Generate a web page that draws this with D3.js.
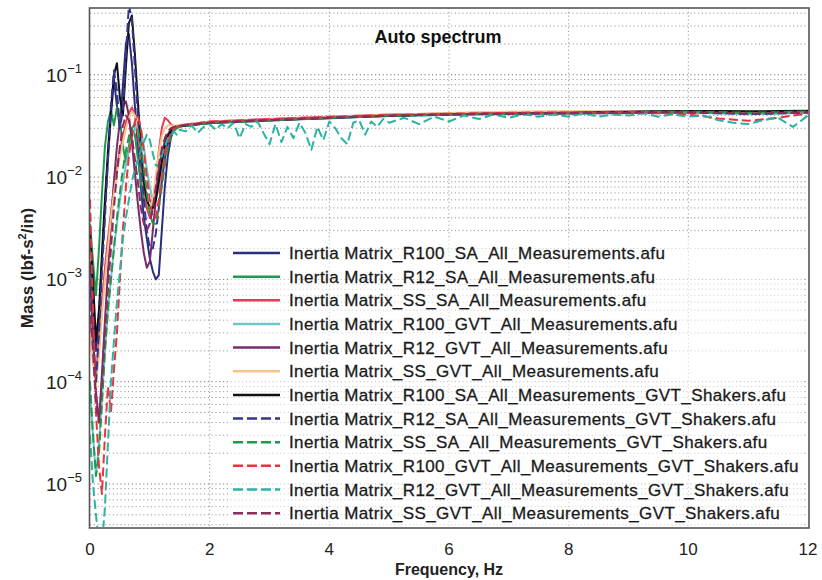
<!DOCTYPE html>
<html><head><meta charset="utf-8">
<script src="https://cdn.jsdelivr.net/npm/d3@7/dist/d3.min.js"></script>
<style>
html,body{margin:0;padding:0;background:#fff;}
svg{display:block;font-family:"Liberation Sans",Arial,Helvetica,sans-serif;}
</style></head>
<body><svg id="chart" width="822" height="580"></svg>
<script>
// ---------------- DATA ----------------
const seriesNames = [
  "Inertia Matrix_R100_SA_All_Measurements.afu",
  "Inertia Matrix_R12_SA_All_Measurements.afu",
  "Inertia Matrix_SS_SA_All_Measurements.afu",
  "Inertia Matrix_R100_GVT_All_Measurements.afu",
  "Inertia Matrix_R12_GVT_All_Measurements.afu",
  "Inertia Matrix_SS_GVT_All_Measurements.afu",
  "Inertia Matrix_R100_SA_All_Measurements_GVT_Shakers.afu",
  "Inertia Matrix_R12_SA_All_Measurements_GVT_Shakers.afu",
  "Inertia Matrix_SS_SA_All_Measurements_GVT_Shakers.afu",
  "Inertia Matrix_R100_GVT_All_Measurements_GVT_Shakers.afu",
  "Inertia Matrix_R12_GVT_All_Measurements_GVT_Shakers.afu",
  "Inertia Matrix_SS_GVT_All_Measurements_GVT_Shakers.afu"
];
const seriesColors = ["#2b2e7c","#1f9950","#e23c58","#6ec5ca","#7a2c68","#f4c48a",
                      "#111111","#35358e","#1f9a4a","#e8343e","#2db3a2","#8a2c5c"];
const seriesDashed = [false,false,false,false,false,false,false,true,true,true,true,true];

const xTicks = [0,2,4,6,8,10,12];
const yTickExps = [-1,-2,-3,-4,-5];

// frequency grids (Hz)
const freqLow = [0,0.05,0.1,0.15,0.2,0.25,0.3,0.35,0.4,0.45,0.5,0.55,0.6,0.65,0.7,0.75,0.8,0.85,0.9,0.95,1.0,1.05,1.1,1.15,1.2,1.25,1.3,1.35,1.4,1.45,1.5];
const freqHigh = [2,2.5,3,3.5,4,4.5,5,5.5,6,6.5,7,7.5,8,8.5,9,9.5,10,10.5,11,11.5,12];
const freqNoisy = [1.6,1.7,1.8,1.9,2.0,2.1,2.2,2.3,2.4,2.5,2.6,2.7,2.8,2.9,3.0,3.1,3.2,3.3,3.4,3.5,3.6,3.7,3.8,3.9,4.0,4.1,4.2,4.3,4.4,4.5,4.6,4.7,4.8,4.9,5.0,5.25,5.5,5.75,6.0,6.25,6.5,6.75,7.0,7.25,7.5,7.75,8.0,8.25,8.5,8.75,9.0,9.25,9.5,9.75,10.0,10.25,10.5,10.75,11.0,11.25,11.5,11.75,12.0];

// mass values (lbf-s^2/in), low-frequency part on freqLow
const r100SaLow   = [1.5e-3,6e-4,2e-4,4e-4,1.5e-3,5e-3,1.5e-2,4e-2,9e-2,5e-2,3e-2,8e-2,2e-1,2.5e-1,1.3e-1,5e-2,2e-2,8e-3,4e-3,2.5e-3,1.6e-3,1.2e-3,1e-3,1.1e-3,3e-3,8e-3,1.6e-2,2.4e-2,2.9e-2,3.1e-2,3.15e-2];
const r12SaLow    = [3.5e-3,1.5e-3,7e-4,2e-3,7e-3,2e-2,3.5e-2,4.5e-2,3.2e-2,4.8e-2,3.6e-2,2e-2,1.4e-2,2e-2,3e-2,2.6e-2,1.5e-2,9e-3,6e-3,5e-3,5e-3,6e-3,8e-3,1.2e-2,1.7e-2,2.2e-2,2.6e-2,2.9e-2,3.05e-2,3.1e-2,3.15e-2];
const ssSaLow     = [4e-4,2e-4,1.2e-4,2.5e-4,6e-4,1.3e-3,2.5e-3,4.5e-3,8e-3,1.2e-2,1.8e-2,2.5e-2,3.4e-2,4.2e-2,4.8e-2,4e-2,2.6e-2,1.5e-2,8e-3,5e-3,4e-3,5e-3,9e-3,1.8e-2,3e-2,3.8e-2,3.6e-2,3.3e-2,3.15e-2,3.15e-2,3.2e-2];
const r100GvtLow  = [8e-5,3e-5,1.2e-5,2.5e-5,7e-5,2e-4,5e-4,1e-3,2e-3,3.5e-3,6e-3,9e-3,1.3e-2,1.8e-2,2.4e-2,3e-2,3.4e-2,3e-2,2e-2,1.2e-2,8e-3,6e-3,6e-3,8e-3,1.2e-2,1.8e-2,2.4e-2,2.8e-2,3e-2,3.1e-2,3.15e-2];
const r12GvtLow   = [1e-3,3e-4,8e-5,4e-5,1.2e-4,4e-4,1.2e-3,3.5e-3,9e-3,2e-2,3.5e-2,5e-2,5.5e-2,4e-2,2.2e-2,1.1e-2,5.5e-3,3e-3,1.8e-3,1.3e-3,1.5e-3,3e-3,6e-3,1.1e-2,1.7e-2,2.2e-2,2.6e-2,2.9e-2,3.05e-2,3.1e-2,3.15e-2];
const ssGvtLow    = [3e-4,1.5e-4,9e-5,1.8e-4,4.5e-4,1e-3,2e-3,4e-3,7e-3,1.1e-2,1.6e-2,2.2e-2,3e-2,3.8e-2,4.4e-2,4e-2,3e-2,1.8e-2,1e-2,6e-3,5e-3,6e-3,1e-2,1.7e-2,2.5e-2,3e-2,3.2e-2,3.2e-2,3.2e-2,3.2e-2,3.25e-2];
const r100SaShLow = [3e-3,1e-3,2.5e-4,5e-4,1.8e-3,6e-3,1.8e-2,4.5e-2,1e-1,1.3e-1,6e-2,4e-2,1.2e-1,3.2e-1,3.8e-1,1.6e-1,5.5e-2,2e-2,9e-3,6e-3,5e-3,5e-3,6e-3,9e-3,1.4e-2,2e-2,2.5e-2,2.8e-2,3e-2,3.1e-2,3.15e-2];
const r12SaShLow  = [8e-4,3e-4,1e-4,3e-4,1.2e-3,4e-3,1.5e-2,5e-2,1.1e-1,7e-2,3e-2,4.5e-2,1.6e-1,4.8e-1,3.5e-1,1.2e-1,4e-2,1.5e-2,6e-3,3e-3,2e-3,2e-3,2.8e-3,5e-3,9e-3,1.5e-2,2.1e-2,2.6e-2,2.9e-2,3.05e-2,3.15e-2];
const ssSaShLow   = [1e-4,3e-5,1.2e-5,2e-5,6e-5,2e-4,5e-4,1e-3,2e-3,4e-3,7e-3,1.2e-2,1.8e-2,2.5e-2,3e-2,3.3e-2,3e-2,2e-2,1.2e-2,7e-3,4.5e-3,3.5e-3,3.5e-3,5e-3,8e-3,1.3e-2,1.9e-2,2.5e-2,2.8e-2,3e-2,3.1e-2];
const r100GvtShLow= [6e-3,5e-4,5e-5,1.5e-5,8e-6,3e-5,9e-5,5e-5,1.3e-4,3e-4,1e-3,3e-3,8e-3,1.6e-2,2.5e-2,3.5e-2,4e-2,3e-2,1.8e-2,1e-2,6e-3,4e-3,4e-3,6e-3,1e-2,1.6e-2,2.2e-2,2.7e-2,3e-2,3.1e-2,3.2e-2];
const r12GvtShLow = [3e-5,1e-5,5e-6,2.5e-6,2.5e-6,6e-6,2.5e-5,1e-4,2.5e-4,6e-4,1.2e-3,2.5e-3,4e-3,6e-3,9e-3,1.2e-2,1.5e-2,1.8e-2,2.2e-2,2.6e-2,2.3e-2,1.7e-2,1.3e-2,1.3e-2,1.6e-2,2e-2,2.4e-2,2.5e-2,2.8e-2,2.6e-2,2.9e-2];
const ssGvtShLow  = [6e-4,2e-4,6e-5,4e-5,1e-4,3e-4,8e-4,2e-3,5e-3,1.1e-2,2e-2,3.2e-2,4e-2,3.6e-2,2.5e-2,1.5e-2,9e-3,5e-3,3.5e-3,3e-3,3.5e-3,5e-3,8e-3,1.3e-2,1.9e-2,2.4e-2,2.8e-2,3e-2,3.1e-2,3.15e-2,3.2e-2];

// high-frequency part on freqHigh
const r100SaHigh   = [.0338,.0348,.0358,.0368,.0377,.0387,.0396,.0402,.0407,.0412,.0413,.0417,.0418,.0422,.0423,.0427,.0428,.0424,.0418,.0422,.0428];
const r12SaHigh    = [.0340,.0350,.0360,.0370,.0380,.0388,.0398,.0404,.0410,.0415,.0416,.0421,.0424,.0430,.0434,.0438,.0440,.0436,.0430,.0434,.0440];
const ssSaHigh     = [.0350,.0360,.0370,.0380,.0390,.0400,.0410,.0415,.0420,.0425,.0428,.0432,.0433,.0436,.0437,.0440,.0441,.0437,.0433,.0436,.0441];
const r100GvtHigh  = [.0337,.0347,.0357,.0367,.0376,.0386,.0395,.0400,.0405,.0410,.0411,.0415,.0416,.0420,.0421,.0425,.0425,.0418,.0412,.0418,.0425];
const r12GvtHigh   = [.0342,.0352,.0362,.0372,.0382,.0391,.0400,.0406,.0411,.0416,.0417,.0421,.0422,.0426,.0427,.0431,.0432,.0428,.0423,.0427,.0433];
const ssGvtHigh    = [.0346,.0356,.0366,.0377,.0388,.0398,.0408,.0415,.0423,.0430,.0436,.0440,.0442,.0440,.0438,.0437,.0436,.0432,.0427,.0431,.0436];
const r100SaShHigh = [.0339,.0349,.0359,.0369,.0379,.0389,.0399,.0405,.0411,.0416,.0419,.0424,.0427,.0432,.0436,.0441,.0444,.0443,.0440,.0442,.0445];
const r12SaShHigh  = [.0341,.0351,.0361,.0371,.0380,.0390,.0399,.0404,.0409,.0414,.0415,.0419,.0420,.0424,.0424,.0428,.0428,.0422,.0414,.0420,.0428];
const ssSaShHigh   = [.0338,.0348,.0358,.0368,.0378,.0388,.0398,.0403,.0409,.0414,.0415,.0420,.0423,.0428,.0432,.0436,.0437,.0432,.0426,.0431,.0438];
const r100GvtShHigh= [.0348,.0358,.0368,.0378,.0387,.0396,.0405,.0411,.0417,.0422,.0425,.0428,.0428,.0428,.0425,.0420,.0410,.0375,.0355,.0380,.0420];
const ssGvtShHigh  = [.0341,.0351,.0361,.0371,.0381,.0390,.0399,.0405,.0410,.0415,.0417,.0420,.0422,.0425,.0427,.0430,.0431,.0426,.0419,.0424,.0431];
// noisy teal dashed series on freqNoisy
const r12GvtShNoisy = [.028,.032,.027,.031,.033,.029,.033,.030,.034,.024,.033,.031,.035,.027,.021,.033,.022,.031,.024,.034,.027,.0185,.031,.023,.035,.030,.024,.021,.034,.036,.026,.035,.031,.037,.034,
  .038,.033,.039,.035,.040,.037,.041,.038,.041,.039,.041,.039,.042,.039,.041,.040,.042,.039,.041,.039,.040,.036,.034,.033,.036,.038,.031,.040];

// ---------------- BUILD ----------------
function join(fa, va, fb, vb){ return fa.map((f,i)=>[f,va[i]]).concat(fb.map((f,i)=>[f,vb[i]])); }
const seriesPoints = [
  join(freqLow, r100SaLow, freqHigh, r100SaHigh),
  join(freqLow, r12SaLow, freqHigh, r12SaHigh),
  join(freqLow, ssSaLow, freqHigh, ssSaHigh),
  join(freqLow, r100GvtLow, freqHigh, r100GvtHigh),
  join(freqLow, r12GvtLow, freqHigh, r12GvtHigh),
  join(freqLow, ssGvtLow, freqHigh, ssGvtHigh),
  join(freqLow, r100SaShLow, freqHigh, r100SaShHigh),
  join(freqLow, r12SaShLow, freqHigh, r12SaShHigh),
  join(freqLow, ssSaShLow, freqHigh, ssSaShHigh),
  join(freqLow, r100GvtShLow, freqHigh, r100GvtShHigh),
  join(freqLow, r12GvtShLow, freqNoisy, r12GvtShNoisy),
  join(freqLow, ssGvtShLow, freqHigh, ssGvtShHigh)
];

const svg = d3.select("#chart");
const L = 90, R = 808, T = 8, B = 527;
const x = d3.scaleLinear().domain([0,12]).range([L,R]);
const y = d3.scaleLog().domain([3.8e-6,0.45]).range([B,T]);

// grid
const grid = svg.append("g");
const minorVals = [];
for (let e=-6;e<=0;e++) for (let k=1;k<=9;k++){ const v=k*Math.pow(10,e); if (v>y.domain()[0] && v<y.domain()[1]) minorVals.push(v); }
grid.selectAll("line.h").data(minorVals).join("line")
  .attr("x1",L).attr("x2",R).attr("y1",d=>y(d)).attr("y2",d=>y(d))
  .attr("stroke",d=>Math.abs(Math.log10(d)-Math.round(Math.log10(d)))<1e-9?"#777":"#9a9a9a")
  .attr("stroke-width",1).attr("stroke-dasharray","1.2,2.6");
grid.selectAll("line.v").data(xTicks.slice(1,-1)).join("line")
  .attr("x1",d=>x(d)).attr("x2",d=>x(d)).attr("y1",T).attr("y2",B)
  .attr("stroke","#9a9a9a").attr("stroke-width",1).attr("stroke-dasharray","1.2,2.6");

// legend background
svg.append("rect").attr("x",230).attr("y",240).attr("width",572).attr("height",286)
  .attr("fill","#fff").attr("fill-opacity",0.55);

// curves
svg.append("clipPath").attr("id","clip").append("rect").attr("x",L).attr("y",T).attr("width",R-L).attr("height",B-T);
const line = d3.line().x(d=>x(d[0])).y(d=>y(Math.max(d[1],1e-7)));
const curves = svg.append("g").attr("clip-path","url(#clip)");
curves.selectAll("path").data(seriesPoints).join("path")
  .attr("d",line).attr("fill","none")
  .attr("stroke",(d,i)=>seriesColors[i]).attr("stroke-width",2)
  .attr("stroke-dasharray",(d,i)=>seriesDashed[i]?"9,4":null)
  .attr("stroke-linejoin","round");

// frame
svg.append("rect").attr("x",L-0.5).attr("y",T).attr("width",R-L+1.5).attr("height",B-T+1)
  .attr("fill","none").attr("stroke","#555").attr("stroke-width",1.6);

// x tick labels
svg.append("g").selectAll("text").data(xTicks).join("text")
  .attr("x",d=>x(d)).attr("y",555).attr("text-anchor","middle")
  .attr("font-size",17).attr("fill","#222").text(d=>d);

// y tick labels
const yt = svg.append("g").selectAll("text").data(yTickExps).join("text")
  .attr("x",82).attr("y",d=>y(Math.pow(10,d))+7).attr("text-anchor","end")
  .attr("font-size",19).attr("fill","#222");
yt.append("tspan").text("10");
yt.append("tspan").attr("dy",-9).attr("font-size",13).text(d=>"\u2212"+(-d));

// axis titles
svg.append("text").attr("x",449).attr("y",575).attr("text-anchor","middle")
  .attr("font-size",16).attr("font-weight","bold").attr("fill","#222").text("Frequency, Hz");
const yTitle = svg.append("text").attr("transform","translate(33,268) rotate(-90)")
  .attr("text-anchor","middle").attr("font-size",17).attr("font-weight","bold").attr("fill","#222");
yTitle.append("tspan").text("Mass (lbf-s");
yTitle.append("tspan").attr("dy",-7).attr("font-size",11).text("2");
yTitle.append("tspan").attr("dy",7).text("/in)");

// chart title
svg.append("text").attr("x",438).attr("y",43).attr("text-anchor","middle")
  .attr("font-size",18).attr("font-weight","bold").attr("fill","#111").text("Auto spectrum");

// legend
const lg = svg.append("g");
const rowY = i => 253 + i*23.65;
lg.selectAll("line").data(seriesNames).join("line")
  .attr("x1",233).attr("x2",280).attr("y1",(d,i)=>rowY(i)).attr("y2",(d,i)=>rowY(i))
  .attr("stroke",(d,i)=>seriesColors[i]).attr("stroke-width",2.5)
  .attr("stroke-dasharray",(d,i)=>seriesDashed[i]?"10,4":null);
lg.selectAll("text").data(seriesNames).join("text")
  .attr("x",289).attr("y",(d,i)=>rowY(i)+6).attr("font-size",17).attr("letter-spacing",0.4)
  .attr("fill","#1a1a1a").attr("stroke","#1a1a1a").attr("stroke-width",0.3)
  .text(d=>d);
</script></body></html>
